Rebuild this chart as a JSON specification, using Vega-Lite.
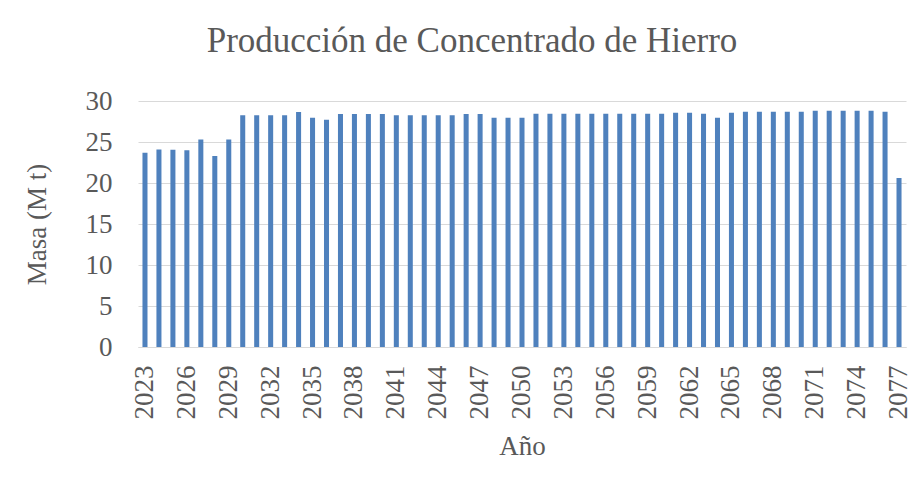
{
  "$schema": "https://vega.github.io/schema/vega-lite/v6.json",
  "width": 768,
  "height": 246,
  "autosize": {"type": "none"},
  "padding": {"left": 138, "top": 101, "right": 17, "bottom": 148},
  "background": "white",
  "title": {
    "text": "Producción de Concentrado de Hierro",
    "font": "Liberation Serif",
    "fontSize": 35,
    "fontWeight": "normal",
    "color": "#595959",
    "anchor": "middle",
    "baseline": "alphabetic",
    "offset": 0,
    "dx": -50
  },
  "data": {
    "values": [
      {"year": 2023, "mass": 23.7}, {"year": 2024, "mass": 24.1}, {"year": 2025, "mass": 24.05}, {"year": 2026, "mass": 24.0},
      {"year": 2027, "mass": 25.3}, {"year": 2028, "mass": 23.3}, {"year": 2029, "mass": 25.3}, {"year": 2030, "mass": 28.25},
      {"year": 2031, "mass": 28.25}, {"year": 2032, "mass": 28.25}, {"year": 2033, "mass": 28.25}, {"year": 2034, "mass": 28.65},
      {"year": 2035, "mass": 27.96}, {"year": 2036, "mass": 27.7}, {"year": 2037, "mass": 28.4}, {"year": 2038, "mass": 28.4},
      {"year": 2039, "mass": 28.4}, {"year": 2040, "mass": 28.4}, {"year": 2041, "mass": 28.25}, {"year": 2042, "mass": 28.25},
      {"year": 2043, "mass": 28.25}, {"year": 2044, "mass": 28.25}, {"year": 2045, "mass": 28.25}, {"year": 2046, "mass": 28.4},
      {"year": 2047, "mass": 28.4}, {"year": 2048, "mass": 27.96}, {"year": 2049, "mass": 27.96}, {"year": 2050, "mass": 27.96},
      {"year": 2051, "mass": 28.45}, {"year": 2052, "mass": 28.45}, {"year": 2053, "mass": 28.45}, {"year": 2054, "mass": 28.45},
      {"year": 2055, "mass": 28.45}, {"year": 2056, "mass": 28.45}, {"year": 2057, "mass": 28.45}, {"year": 2058, "mass": 28.45},
      {"year": 2059, "mass": 28.45}, {"year": 2060, "mass": 28.45}, {"year": 2061, "mass": 28.57}, {"year": 2062, "mass": 28.57},
      {"year": 2063, "mass": 28.45}, {"year": 2064, "mass": 27.96}, {"year": 2065, "mass": 28.57}, {"year": 2066, "mass": 28.69},
      {"year": 2067, "mass": 28.69}, {"year": 2068, "mass": 28.69}, {"year": 2069, "mass": 28.69}, {"year": 2070, "mass": 28.69},
      {"year": 2071, "mass": 28.8}, {"year": 2072, "mass": 28.8}, {"year": 2073, "mass": 28.8}, {"year": 2074, "mass": 28.8},
      {"year": 2075, "mass": 28.8}, {"year": 2076, "mass": 28.69}, {"year": 2077, "mass": 20.6}
    ]
  },
  "mark": {"type": "bar", "color": "#4F81BD"},
  "encoding": {
    "x": {
      "field": "year",
      "type": "ordinal",
      "scale": {"paddingInner": 0.64, "paddingOuter": 0.32},
      "axis": {
        "title": "Año",
        "values": [2023, 2026, 2029, 2032, 2035, 2038, 2041, 2044, 2047, 2050, 2053, 2056, 2059, 2062, 2065, 2068, 2071, 2074, 2077],
        "labelAngle": -90,
        "labelAlign": "right",
        "labelBaseline": "middle",
        "labelPadding": 18,
        "ticks": false,
        "domainColor": "#D9D9D9",
        "domainWidth": 1,
        "titlePadding": 14
      }
    },
    "y": {
      "field": "mass",
      "type": "quantitative",
      "scale": {"domain": [0, 30]},
      "axis": {
        "title": "Masa (M t)",
        "values": [0, 5, 10, 15, 20, 25, 30],
        "ticks": false,
        "domain": false,
        "labelPadding": 26,
        "titlePadding": 34,
        "gridColor": "#D9D9D9",
        "gridWidth": 1
      }
    }
  },
  "config": {
    "view": {"stroke": null},
    "axis": {
      "labelFont": "Liberation Serif",
      "titleFont": "Liberation Serif",
      "labelFontSize": 27,
      "titleFontSize": 27,
      "titleFontWeight": "normal",
      "labelColor": "#595959",
      "titleColor": "#595959"
    }
  }
}
